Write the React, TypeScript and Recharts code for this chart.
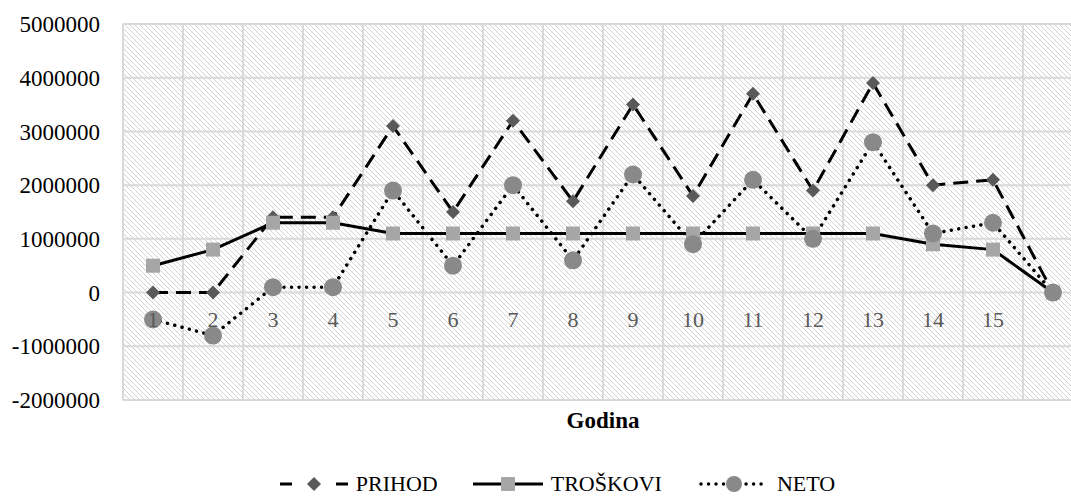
import { CartesianGrid, Legend, Line, LineChart, XAxis, YAxis } from 'recharts';

// godine 1..15, zadnja kategorija bez oznake
const godine = ['1', '2', '3', '4', '5', '6', '7', '8', '9', '10', '11', '12', '13', '14', '15', ''];
const prihod = [0, 0, 1400000, 1400000, 3100000, 1500000, 3200000, 1700000, 3500000, 1800000, 3700000, 1900000, 3900000, 2000000, 2100000, 0];
const troskovi = [500000, 800000, 1300000, 1300000, 1100000, 1100000, 1100000, 1100000, 1100000, 1100000, 1100000, 1100000, 1100000, 900000, 800000, 0];
const neto = [-500000, -800000, 100000, 100000, 1900000, 500000, 2000000, 600000, 2200000, 900000, 2100000, 1000000, 2800000, 1100000, 1300000, 0];
const yTicks = [-2000000, -1000000, 0, 1000000, 2000000, 3000000, 4000000, 5000000];

const FONT = '"Liberation Serif", "Times New Roman", serif';
const W = 1100;
const H = 497;
const MARGIN = { top: 24, right: 17, bottom: 0, left: 8 };
const X_AXIS_H = 71;
const LEGEND_H = 26;
const PLOT_H = H - MARGIN.top - X_AXIS_H - LEGEND_H;
const Y_MIN = yTicks[0];
const Y_MAX = yTicks[yTicks.length - 1];
// x oznake stoje uz liniju nule (kao u Excelu)
const ZERO_FROM_BOTTOM = (PLOT_H * (0 - Y_MIN)) / (Y_MAX - Y_MIN);

const data = godine.map((g, i) => ({
  godina: g,
  prihod: prihod[i],
  troskovi: troskovi[i],
  neto: neto[i],
}));

const Diamond = (p: any) => {
  const { cx, cy, index } = p;
  if (cx == null || cy == null) return null;
  return <polygon key={`p-${index}`} points={`${cx},${cy - 7} ${cx + 7},${cy} ${cx},${cy + 7} ${cx - 7},${cy}`} fill="#595959" />;
};

const Square = (p: any) => {
  const { cx, cy, index } = p;
  if (cx == null || cy == null) return null;
  return <rect key={`t-${index}`} x={cx - 7} y={cy - 7} width={14} height={14} fill="#a6a6a6" />;
};

const Circle = (p: any) => {
  const { cx, cy, index } = p;
  if (cx == null || cy == null) return null;
  return <circle key={`n-${index}`} cx={cx} cy={cy} r={9} fill="#898989" />;
};

const XTick = (p: any) => {
  const { x, y, payload } = p;
  return (
    <text x={x} y={y - ZERO_FROM_BOTTOM + 34} textAnchor="middle" fill="#595959" fontSize={22} fontFamily={FONT}>
      {payload.value}
    </text>
  );
};

function LegendContent() {
  const item = { display: 'flex', alignItems: 'center' } as const;
  return (
    <div
      style={{
        display: 'flex',
        justifyContent: 'center',
        alignItems: 'center',
        height: LEGEND_H,
        fontFamily: FONT,
        fontSize: 22,
        color: '#000',
        paddingLeft: 24,
      }}
    >
      <div style={item}>
        <svg width={70} height={20}>
          <line x1={0} y1={10} x2={12} y2={10} stroke="#000" strokeWidth={3} />
          <line x1={56} y1={10} x2={68} y2={10} stroke="#000" strokeWidth={3} />
          <polygon points="34,3 41,10 34,17 27,10" fill="#595959" />
        </svg>
        <span style={{ marginLeft: 6, marginRight: 35 }}>PRIHOD</span>
      </div>
      <div style={item}>
        <svg width={70} height={20}>
          <line x1={0} y1={10} x2={70} y2={10} stroke="#000" strokeWidth={3} />
          <rect x={28} y={3} width={14} height={14} fill="#a6a6a6" />
        </svg>
        <span style={{ marginLeft: 8, marginRight: 37 }}>TROŠKOVI</span>
      </div>
      <div style={item}>
        <svg width={70} height={20}>
          <line x1={2} y1={10} x2={68} y2={10} stroke="#000" strokeWidth={3.5} strokeLinecap="round" strokeDasharray="0.01 7.5" />
          <circle cx={35} cy={10} r={8} fill="#898989" />
        </svg>
        <span style={{ marginLeft: 8 }}>NETO</span>
      </div>
    </div>
  );
}

export default function App() {
  return (
    <div style={{ position: 'fixed', left: 0, top: 0, width: 1071, height: 497, overflow: 'hidden', background: '#fff' }}>
      <LineChart width={W} height={H} data={data} margin={MARGIN}>
        <defs>
          <pattern id="hatch" width={5} height={5} patternUnits="userSpaceOnUse">
            <rect width={5} height={5} fill="#fff" />
            <path d="M0,0 L5,5 M-1,4 L1,6 M4,-1 L6,1" stroke="#d2d2d2" strokeWidth={1} />
          </pattern>
        </defs>
        <CartesianGrid
          fill="url(#hatch)"
          fillOpacity={1}
          stroke="#d9d9d9"
          strokeWidth={2}
          verticalCoordinatesGenerator={({ offset }: any) =>
            Array.from({ length: godine.length + 1 }, (_, i) => offset.left + (i * offset.width) / godine.length)
          }
        />
        <XAxis
          dataKey="godina"
          height={X_AXIS_H}
          padding={{ left: 30, right: 30 }}
          axisLine={false}
          tickLine={false}
          tickSize={0}
          tickMargin={0}
          interval={0}
          tick={<XTick />}
          label={{ value: 'Godina', position: 'insideTop', offset: 12, fill: '#000', fontSize: 23, fontWeight: 'bold', fontFamily: FONT }}
        />
        <YAxis
          width={115}
          domain={[Y_MIN, Y_MAX]}
          ticks={yTicks}
          interval={0}
          axisLine={false}
          tickLine={false}
          tickSize={0}
          tickMargin={23}
          tick={{ fill: '#000', fontSize: 23, fontFamily: FONT }}
        />
        <Legend verticalAlign="bottom" height={LEGEND_H} content={<LegendContent />} />
        <Line
          dataKey="prihod"
          name="PRIHOD"
          type="linear"
          stroke="#000"
          strokeWidth={3}
          strokeDasharray="15 8"
          dot={Diamond}
          activeDot={false}
          isAnimationActive={false}
        />
        <Line
          dataKey="troskovi"
          name="TROŠKOVI"
          type="linear"
          stroke="#000"
          strokeWidth={3}
          dot={Square}
          activeDot={false}
          isAnimationActive={false}
        />
        <Line
          dataKey="neto"
          name="NETO"
          type="linear"
          stroke="#000"
          strokeWidth={3.5}
          strokeLinecap="round"
          strokeDasharray="0.01 7.5"
          dot={Circle}
          activeDot={false}
          isAnimationActive={false}
        />
      </LineChart>
    </div>
  );
}
